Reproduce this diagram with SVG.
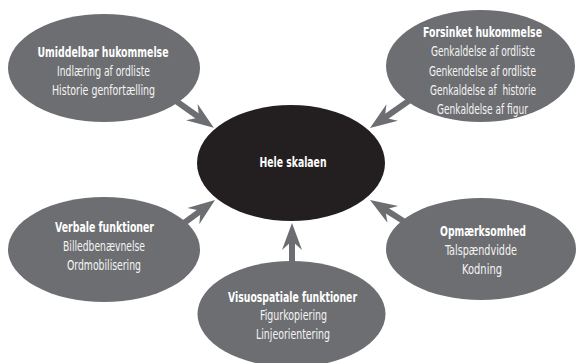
<svg xmlns="http://www.w3.org/2000/svg" width="576" height="363" viewBox="0 0 576 363">
<style>
.sub{fill:#6d6e71}
.core{fill:#231f20}
text{font-family:'DejaVu Sans Condensed','DejaVu Sans',sans-serif;font-stretch:condensed;font-size:13.5px;text-anchor:middle;fill:#f4f4f4;white-space:pre}
.t{font-weight:bold;fill:#ffffff}
.arr{stroke:#6d6e71;stroke-width:6;fill:none;marker-end:url(#head)}
</style>
<defs>
<marker id="head" markerUnits="userSpaceOnUse" viewBox="-16 -11 30 22" markerWidth="30" markerHeight="22" refX="0" refY="0" orient="auto">
<path d="M13,0 L-14,-10 L-5,0 L-14,10 Z" fill="#6d6e71"/>
</marker>
</defs>
<rect width="576" height="363" fill="#ffffff"/>
<g id="connectors">
<path class="arr" d="M176,101 L203.2,120.3"/>
<path class="arr" d="M410,100 L380.7,120.5"/>
<path class="arr" d="M180,226 L204.6,207.8"/>
<path class="arr" d="M292,264 L292,236"/>
<path class="arr" d="M408,224 L381,206.9"/>
</g>
<g id="umiddelbar">
<ellipse class="sub" cx="104" cy="68" rx="96" ry="54"/>
<text class="t" x="103" y="57" textLength="131" lengthAdjust="spacingAndGlyphs">Umiddelbar hukommelse</text>
<text x="103.5" y="76" textLength="93" lengthAdjust="spacingAndGlyphs">Indlæring af ordliste</text>
<text x="103.5" y="95" textLength="103" lengthAdjust="spacingAndGlyphs">Historie genfortælling</text>
</g>
<g id="forsinket">
<ellipse class="sub" cx="480.5" cy="66" rx="94.5" ry="56"/>
<text class="t" x="482.5" y="37" textLength="119" lengthAdjust="spacingAndGlyphs">Forsinket hukommelse</text>
<text x="483" y="56" textLength="104" lengthAdjust="spacingAndGlyphs">Genkaldelse af ordliste</text>
<text x="482.5" y="75.5" textLength="107" lengthAdjust="spacingAndGlyphs">Genkendelse af ordliste</text>
<text x="483" y="95" textLength="106" lengthAdjust="spacingAndGlyphs">Genkaldelse af  historie</text>
<text x="482.5" y="114" textLength="91" lengthAdjust="spacingAndGlyphs">Genkaldelse af figur</text>
</g>
<g id="hele">
<ellipse class="core" cx="291" cy="163" rx="94" ry="58"/>
<text class="t" x="293" y="167" textLength="67" lengthAdjust="spacingAndGlyphs">Hele skalaen</text>
</g>
<g id="verbale">
<ellipse class="sub" cx="104" cy="249.5" rx="96" ry="52.5"/>
<text class="t" x="104.5" y="232" textLength="99" lengthAdjust="spacingAndGlyphs">Verbale funktioner</text>
<text x="104" y="251" textLength="82" lengthAdjust="spacingAndGlyphs">Billedbenævnelse</text>
<text x="104" y="270" textLength="74" lengthAdjust="spacingAndGlyphs">Ordmobilisering</text>
</g>
<g id="visuospatiale">
<ellipse class="sub" cx="291.5" cy="314" rx="94" ry="53"/>
<text class="t" x="292.5" y="302" textLength="129" lengthAdjust="spacingAndGlyphs">Visuospatiale funktioner</text>
<text x="293.5" y="320" textLength="67" lengthAdjust="spacingAndGlyphs">Figurkopiering</text>
<text x="293" y="339" textLength="74" lengthAdjust="spacingAndGlyphs">Linjeorientering</text>
</g>
<g id="opmaerksomhed">
<ellipse class="sub" cx="481" cy="249" rx="95" ry="51"/>
<text class="t" x="483" y="236" textLength="86" lengthAdjust="spacingAndGlyphs">Opmærksomhed</text>
<text x="481" y="255" textLength="72" lengthAdjust="spacingAndGlyphs">Talspændvidde</text>
<text x="482" y="274" textLength="40" lengthAdjust="spacingAndGlyphs">Kodning</text>
</g>
</svg>
